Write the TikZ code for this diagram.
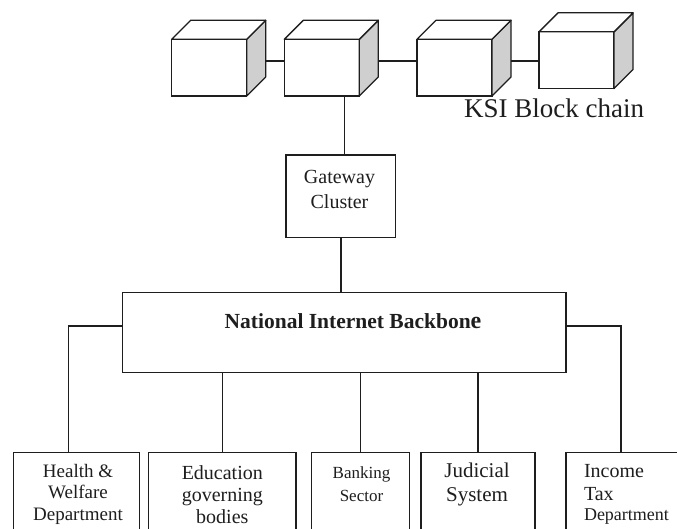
\documentclass[tikz,border=0pt]{standalone}
\usepackage{fontspec}
\setmainfont{Liberation Serif}
\usetikzlibrary{calc}
\definecolor{ink}{HTML}{1E1E1E}
\definecolor{side}{HTML}{CFCFCF}
\tikzset{
  frame/.style={draw=ink, line width=1.3pt, rectangle, inner sep=0pt, outer sep=0pt, fill=white},
  cubefront/.style={frame, minimum width=75pt, minimum height=56.7pt},
  wire/.style={draw=ink, line width=1.3pt},
  cubeface/.style={draw=ink, line width=1.3pt, line join=round},
  txt/.style={inner sep=0pt, outer sep=0pt, align=center, text=ink},
}
\begin{document}
\begin{tikzpicture}[x=1pt,y=-1pt]
\useasboundingbox (0,0) rectangle (677,529);
\clip (0,0) rectangle (677,529);
\fill[white] (0,0) rectangle (677,529);

% blockchain cubes (front faces)
\node[cubefront] (c1) at (209.2,67.65) {};
\node[cubefront] (c2) at (321.8,67.65) {};
\node[cubefront] (c3) at (454.5,67.65) {};
\node[cubefront] (c4) at (576.5,60.2) {};
\foreach \c in {c1,c2,c3,c4}{
  \filldraw[cubeface, fill=side] (\c.north east) -- ++(19,-19) -- ++(0,56.7) -- (\c.south east) -- cycle;
  \filldraw[cubeface, fill=white] (\c.north west) -- ++(19,-19) -- ++(75,0) -- (\c.north east) -- cycle;
}
\coordinate (k1) at ($(c1.east)+(19,-6.6)$);
\coordinate (k2) at ($(c2.east)+(19,-6.6)$);
\coordinate (k3) at ($(c3.east)+(19,-6.6)$);
\draw[wire] (k1) -- (k1 -| c2.west);
\draw[wire] (k2) -- (k2 -| c3.west);
\draw[wire] (k3) -- (k3 -| c4.west);

\node[txt, anchor=base, font=\fontsize{27}{30}\selectfont] (ksi) at (554.2,118) {KSI Block chain};

% gateway
\node[frame, minimum width=109.7pt, minimum height=82.7pt] (gw) at (340.85,196.35) {};
\node[txt, anchor=base, font=\fontsize{20}{25}\selectfont] (gwt) at (339.5,208.3) {Gateway\\Cluster};
\coordinate (gwtop) at ($(gw.north)+(3.4,0)$);
\draw[wire] (c2.south -| gwtop) -- (gwtop);

% backbone
\node[frame, minimum width=443.7pt, minimum height=80pt] (nb) at (344.15,332.7) {};
\node[txt, anchor=base, font=\bfseries\fontsize{21.5}{24}\selectfont] (nbt) at (353,328.3) {National Internet Backbon{\fontsize{24}{24}\selectfont e}};
\draw[wire] (gw.south) -- (gw.south |- nb.north);

% departments
\node[frame, minimum width=126pt, minimum height=90pt, anchor=north] (b1) at (76.3,452.7) {};
\node[frame, minimum width=147.7pt, minimum height=90pt, anchor=north] (b2) at (222.15,452.7) {};
\node[frame, minimum width=97.6pt, minimum height=90pt, anchor=north] (b3) at (360.5,452.7) {};
\node[frame, minimum width=114pt, minimum height=90pt, anchor=north] (b4) at (478,452.7) {};
\node[frame, minimum width=130pt, minimum height=90pt, anchor=north] (b5) at (631,452.7) {};

\draw[wire] ($(nb.west)+(0,-6.7)$) -| ($(b1.north)+(-8,0)$);
\draw[wire] ($(nb.east)+(0,-6.7)$) -| ($(b5.north)+(-10,0)$);
\draw[wire] (b2.north) -- (b2.north |- nb.south);
\draw[wire] (b3.north) -- (b3.north |- nb.south);
\draw[wire] (b4.north) -- (b4.north |- nb.south);

\node[txt, anchor=base, font=\fontsize{19}{21.4}\selectfont] (b1t) at (78,520) {Health \&\\Welfare\\Department};
\node[txt, anchor=base, font=\fontsize{20}{21.6}\selectfont] (b2t) at (222.3,523) {Education\\governing\\bodies};
\node[txt, anchor=base, font=\fontsize{17}{23.4}\selectfont] (b3t) at (361.5,501.7) {Banking\\Sector};
\node[txt, anchor=base, font=\fontsize{21}{24}\selectfont] (b4t) at (477,501.7) {Judicial\\System};
\node[txt, anchor=base west, align=left, font=\fontsize{20}{22.7}\selectfont] (b5t) at (584,520.7) {Income\\Tax\\[-2pt]{\fontsize{18}{20}\selectfont Department}};
\end{tikzpicture}
\end{document}
